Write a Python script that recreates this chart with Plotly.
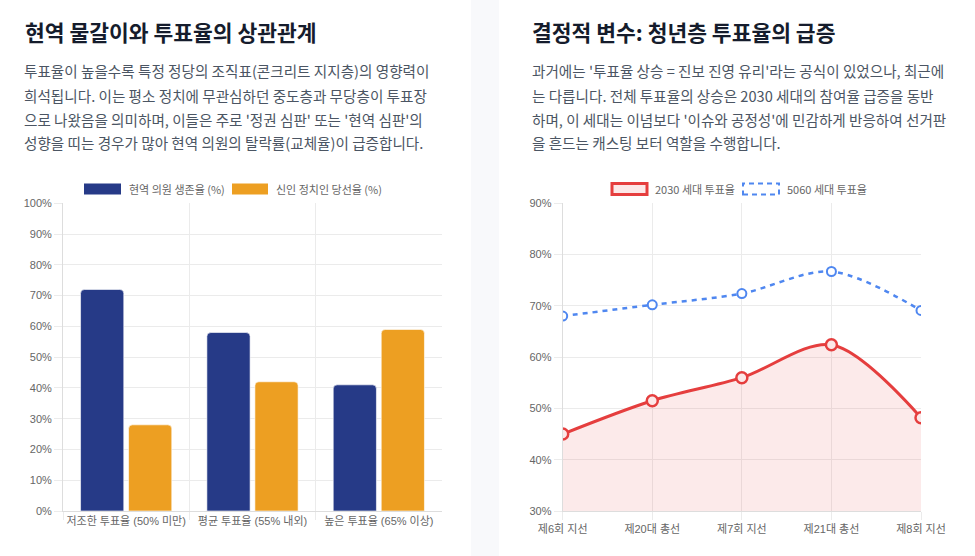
import plotly.graph_objects as go

# ---------------- data ----------------
bar_categories = ["저조한 투표율 (50% 미만)", "평균 투표율 (55% 내외)", "높은 투표율 (65% 이상)"]
incumbent_survival = [72, 58, 41]
newcomer_win = [28, 42, 59]
bar_series_names = ["현역 의원 생존율 (%)", "신인 정치인 당선율 (%)"]

elections = ["제6회 지선", "제20대 총선", "제7회 지선", "제21대 총선", "제8회 지선"]
turnout_2030 = [45, 51.5, 56, 62.4, 48.2]
turnout_5060 = [68, 70.2, 72.4, 76.7, 69.1]
line_series_names = ["2030 세대 투표율", "5060 세대 투표율"]

left_title = "현역 물갈이와 투표율의 상관관계"
right_title = "결정적 변수: 청년층 투표율의 급증"
left_text = [
    "투표율이 높을수록 특정 정당의 조직표(콘크리트 지지층)의 영향력이",
    "희석됩니다. 이는 평소 정치에 무관심하던 중도층과 무당층이 투표장",
    "으로 나왔음을 의미하며, 이들은 주로 '정권 심판' 또는 '현역 심판'의",
    "성향을 띠는 경우가 많아 현역 의원의 탈락률(교체율)이 급증합니다.",
]
right_text = [
    "과거에는 '투표율 상승 = 진보 진영 유리'라는 공식이 있었으나, 최근에",
    "는 다릅니다. 전체 투표율의 상승은 2030 세대의 참여율 급증을 동반",
    "하며, 이 세대는 이념보다 '이슈와 공정성'에 민감하게 반응하여 선거판",
    "을 흔드는 캐스팅 보터 역할을 수행합니다.",
]

# ---------------- style ----------------
W, H = 975, 556
FONT = "Noto Sans CJK KR, Liberation Sans, sans-serif"
TICK_FONT = dict(family="Liberation Sans, Noto Sans CJK KR, sans-serif", size=11, color="#666666")
BLUE_BAR = "#263a87"
ORANGE_BAR = "#ed9f22"
RED = "#e53e3e"
RED_FILL = "rgba(229,62,62,0.11)"
BLUE_LINE = "#4f87f0"
GRID = "#ebebeb"

def px(x):
    return x / W

def py(y):
    return 1 - y / H

fig = go.Figure()

fig.add_trace(go.Bar(
    x=bar_categories, y=incumbent_survival, name=bar_series_names[0],
    marker=dict(color=BLUE_BAR, line=dict(color="rgba(255,255,255,0.6)", width=1)),
    xaxis="x", yaxis="y", showlegend=False,
    hovertemplate="%{x}<br>" + bar_series_names[0] + ": %{y}%<extra></extra>",
))
fig.add_trace(go.Bar(
    x=bar_categories, y=newcomer_win, name=bar_series_names[1],
    marker=dict(color=ORANGE_BAR, line=dict(color="rgba(255,255,255,0.6)", width=1)),
    xaxis="x", yaxis="y", showlegend=False,
    hovertemplate="%{x}<br>" + bar_series_names[1] + ": %{y}%<extra></extra>",
))

fig.add_trace(go.Scatter(
    x=elections, y=turnout_2030, name=line_series_names[0],
    mode="lines+markers", line=dict(color=RED, width=3, shape="spline", smoothing=0.9),
    fill="tozeroy", fillcolor=RED_FILL,
    marker=dict(symbol="circle", size=11, color="rgba(252,232,232,1)", line=dict(color=RED, width=2.5)),
    xaxis="x2", yaxis="y2", showlegend=False,
))
fig.add_trace(go.Scatter(
    x=elections, y=turnout_5060, name=line_series_names[1],
    mode="lines+markers", line=dict(color=BLUE_LINE, width=2.5, dash="5px,5px", shape="spline", smoothing=0.9),
    marker=dict(symbol="circle", size=9, color="white", line=dict(color=BLUE_LINE, width=2)),
    xaxis="x2", yaxis="y2", showlegend=False,
))

plot_top, plot_bottom = 203.3, 511
common_y = dict(showgrid=True, gridcolor=GRID, gridwidth=1, ticks="outside", ticklen=8,
                tickcolor=GRID, showline=True, linecolor="#dddddd", linewidth=1,
                tickfont=TICK_FONT, zeroline=False, ticksuffix="%", automargin=False)
common_x = dict(showgrid=True, gridcolor=GRID, gridwidth=1, ticks="outside", ticklen=8,
                tickcolor=GRID, showline=True, linecolor="#dddddd", linewidth=1,
                tickfont=TICK_FONT, zeroline=False, tickangle=0, automargin=False)

fig.update_layout(
    width=W, height=H,
    margin=dict(l=0, r=0, t=0, b=0, autoexpand=False),
    paper_bgcolor="white", plot_bgcolor="white",
    font=dict(family=FONT),
    barmode="group", bargap=0.24, bargroupgap=0.1, barcornerradius=4,
    xaxis=dict(domain=[px(63), px(442)], anchor="y", tickson="boundaries", **common_x),
    yaxis=dict(domain=[py(plot_bottom), py(plot_top)], anchor="x", range=[0, 100], dtick=10, **common_y),
    xaxis2=dict(domain=[px(562.7), px(921)], anchor="y2", range=[0, 4], **common_x),
    yaxis2=dict(domain=[py(plot_bottom), py(plot_top)], anchor="x2", range=[30, 90], dtick=10, **common_y),
)

shapes = []
annotations = []

# gap between the two cards
shapes.append(dict(type="rect", xref="paper", yref="paper", x0=px(471), x1=px(499), y0=0, y1=1,
                   fillcolor="#f8f9fb", line=dict(width=0), layer="below"))

# titles
for x0, t in [(23, left_title), (530, right_title)]:
    annotations.append(dict(text=f"<b>{t}</b>", x=px(x0), y=py(32), xref="paper", yref="paper",
                            xanchor="left", yanchor="middle", showarrow=False,
                            font=dict(family=FONT, size=21.5, color="#151c2c")))

# paragraphs
for x0, lines in [(22, left_text), (530, right_text)]:
    for i, ln in enumerate(lines):
        annotations.append(dict(text=ln, x=px(x0), y=py(71 + i * 24), xref="paper", yref="paper",
                                xanchor="left", yanchor="middle", showarrow=False,
                                font=dict(family=FONT, size=14.6, color="#4b5563")))

# custom legends (chart.js style boxes)
leg_y0, leg_y1 = 183.5, 194.5
leg_font = dict(family=FONT, size=11, color="#666666")
# left legend
shapes.append(dict(type="rect", xref="paper", yref="paper", x0=px(84), x1=px(121), y0=py(leg_y1), y1=py(leg_y0),
                   fillcolor=BLUE_BAR, line=dict(width=0)))
annotations.append(dict(text=bar_series_names[0], x=px(127), y=py(189), xref="paper", yref="paper",
                        xanchor="left", yanchor="middle", showarrow=False, font=leg_font))
shapes.append(dict(type="rect", xref="paper", yref="paper", x0=px(232), x1=px(268), y0=py(leg_y1), y1=py(leg_y0),
                   fillcolor=ORANGE_BAR, line=dict(width=0)))
annotations.append(dict(text=bar_series_names[1], x=px(274), y=py(189), xref="paper", yref="paper",
                        xanchor="left", yanchor="middle", showarrow=False, font=leg_font))
# right legend
shapes.append(dict(type="rect", xref="paper", yref="paper", x0=px(612), x1=px(647), y0=py(leg_y1), y1=py(leg_y0),
                   fillcolor="rgba(252,232,232,1)", line=dict(color=RED, width=3)))
annotations.append(dict(text=line_series_names[0], x=px(653), y=py(189), xref="paper", yref="paper",
                        xanchor="left", yanchor="middle", showarrow=False, font=leg_font))
shapes.append(dict(type="rect", xref="paper", yref="paper", x0=px(743), x1=px(779), y0=py(leg_y1), y1=py(leg_y0),
                   fillcolor="white", line=dict(color=BLUE_LINE, width=2, dash="5px,4px")))
annotations.append(dict(text=line_series_names[1], x=px(785), y=py(189), xref="paper", yref="paper",
                        xanchor="left", yanchor="middle", showarrow=False, font=leg_font))

fig.update_layout(shapes=shapes, annotations=annotations)

fig.write_html("out.html", config={"displayModeBar": False},
               post_script="document.body.style.margin='0';document.body.style.overflow='hidden';")
